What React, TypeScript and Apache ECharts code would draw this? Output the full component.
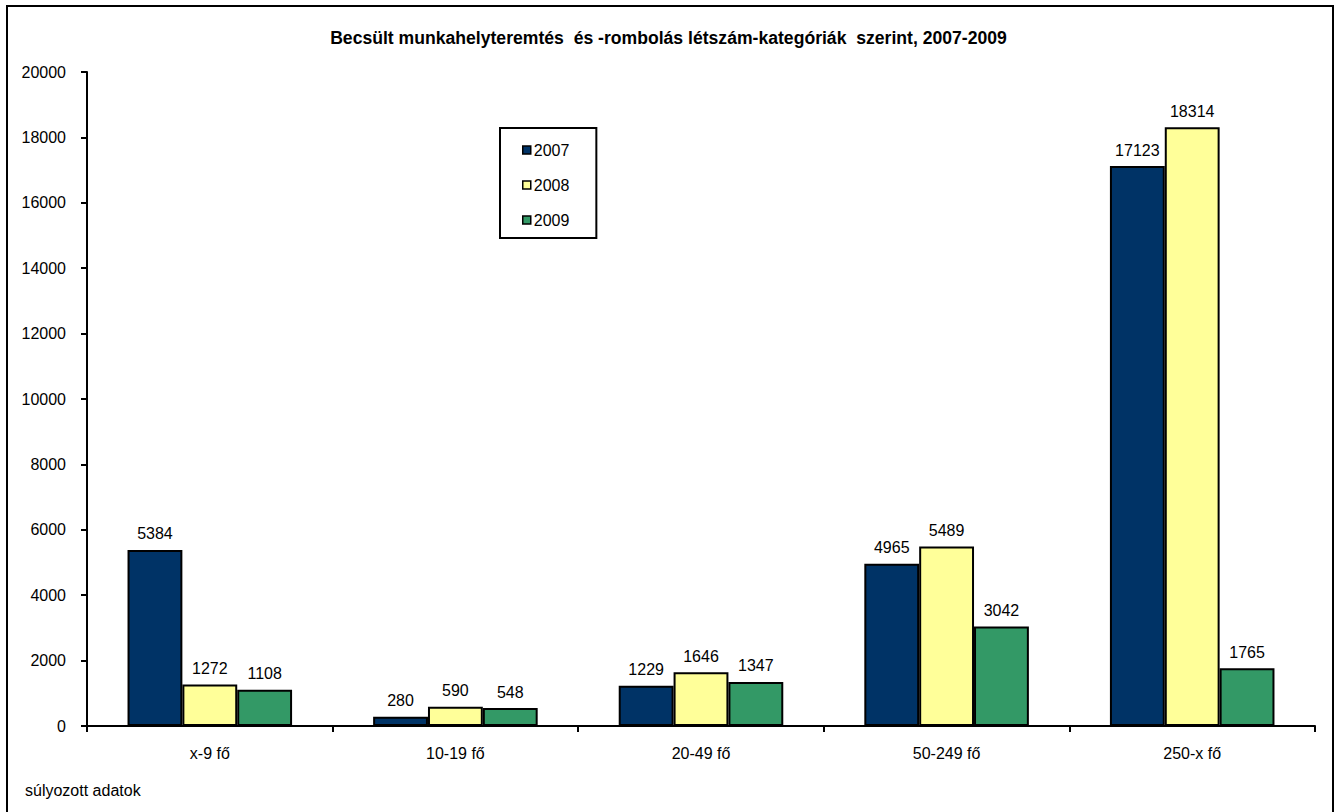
import React, { useEffect, useRef } from "react";
import * as echarts from "echarts";

const categories = ["x-9 fő", "10-19 fő", "20-49 fő", "50-249 fő", "250-x fő"];
const years = ["2007", "2008", "2009"];
const values2007 = [5384, 280, 1229, 4965, 17123];
const values2008 = [1272, 590, 1646, 5489, 18314];
const values2009 = [1108, 548, 1347, 3042, 1765];
const colors = ["#003366", "#FFFF99", "#339966"];

const FONT = "'Liberation Sans', Arial, sans-serif";

export default function App() {
  const ref = useRef<HTMLDivElement>(null);
  useEffect(() => {
    if (!ref.current) return;
    const chart = echarts.init(ref.current, undefined, { renderer: "svg" });
    const seriesData = [values2007, values2008, values2009];
    chart.setOption({
      animation: false,
      backgroundColor: "#fff",
      textStyle: { fontFamily: FONT },
      title: {
        text: "Becsült munkahelyteremtés  és -rombolás létszám-kategóriák  szerint, 2007-2009",
        left: "center",
        top: 29,
        padding: 0,
        textStyle: { fontFamily: FONT, fontSize: 17.6, fontWeight: "bold", color: "#000" },
      },
      legend: {
        orient: "vertical",
        left: 500,
        top: 128,
        padding: [14, 27, 10, 22],
        itemGap: 19,
        itemWidth: 8,
        itemHeight: 8,
        borderColor: "#000",
        borderWidth: 2,
        icon: "rect",
        data: years,
        itemStyle: { borderColor: "#000", borderWidth: 1.5 },
        textStyle: { fontFamily: FONT, fontSize: 16, lineHeight: 16, color: "#000", padding: [0, 0, 0, -2] },
      },
      grid: { left: 87, right: 22, top: 72, bottom: 86 },
      xAxis: {
        type: "category",
        data: categories,
        axisLine: { lineStyle: { color: "#000", width: 2 } },
        axisTick: { show: true, alignWithLabel: false, length: 6, lineStyle: { color: "#000", width: 2 } },
        axisLabel: { color: "#000", fontSize: 16, fontFamily: FONT, margin: 19 },
      },
      yAxis: {
        type: "value",
        min: 0,
        max: 20000,
        interval: 2000,
        splitLine: { show: false },
        axisLine: { show: true, lineStyle: { color: "#000", width: 2 } },
        axisTick: { show: true, length: 6, lineStyle: { color: "#000", width: 2 } },
        axisLabel: {
          color: "#000",
          fontSize: 16,
          fontFamily: FONT,
          margin: 21,
          formatter: (v: number) => String(v),
        },
      },
      series: years.map((y, i) => ({
        name: y,
        type: "bar",
        data: seriesData[i],
        barGap: "0%",
        barCategoryGap: "33%",
        itemStyle: { color: colors[i], borderColor: "#000", borderWidth: 2 },
        label: {
          show: true,
          position: "top",
          distance: 8,
          color: "#000",
          fontSize: 16,
          fontFamily: FONT,
        },
      })),
      graphic: [
        {
          type: "rect",
          shape: { x: 7, y: 6, width: 1326, height: 820 },
          style: { fill: "none", stroke: "#000", lineWidth: 2 },
          silent: true,
        },
        {
          type: "text",
          left: 25,
          top: 782,
          style: { text: "súlyozott adatok", fontSize: 16, fontFamily: FONT, fill: "#000" },
        },
      ],
    });
    return () => chart.dispose();
  }, []);
  return (
    <div
      ref={ref}
      style={{ position: "fixed", left: 0, top: 0, width: 1337, height: 812 }}
    />
  );
}
